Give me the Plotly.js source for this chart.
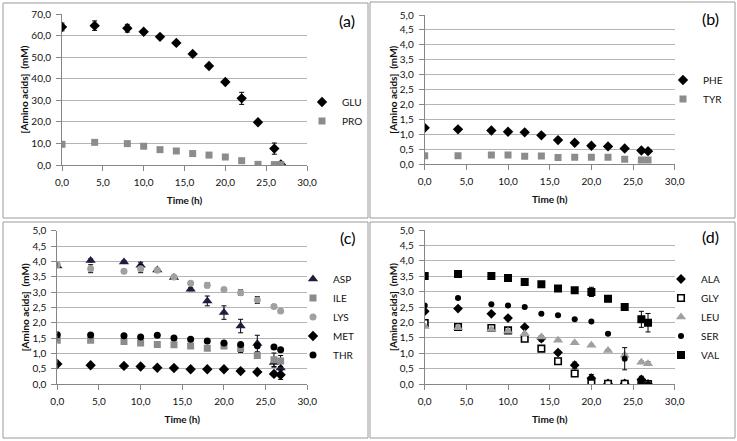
<!DOCTYPE html>
<html>
<head>
<meta charset="utf-8">
<script src="https://cdn.plot.ly/plotly-3.0.1.min.js"></script>
<style>html,body{margin:0;padding:0;background:#fff;}#chart{width:737px;height:441px;}</style>
</head>
<body>
<div id="chart"></div>
<script>
// ---------- data ----------
const time = [0, 4, 8, 10, 12, 14, 16, 18, 20, 22, 24, 26, 26.8];

// panel (a)
const GLU    = [64.0, 64.6, 63.4, 61.8, 59.4, 56.6, 51.5, 45.9, 38.5, 30.9, 19.8, 7.6, 0.2];
const GLUerr = [1.8, 2.2, 1.8, 0.8, 0.6, 0.6, 0.6, 0.6, 0.6, 2.8, 0.6, 2.6, 0.3];
const PRO    = [9.6, 10.5, 9.9, 8.7, 7.1, 6.5, 5.3, 4.6, 3.7, 2.0, 0.3, 0.2, 0.2];
const PROerr = [0.4, 0.4, 0.4, 0.4, 0.4, 0.4, 0.4, 0.4, 0.4, 0.4, 0.2, 0.2, 0.2];

// panel (b)
const PHE    = [1.22, 1.17, 1.13, 1.09, 1.07, 0.97, 0.81, 0.72, 0.62, 0.60, 0.53, 0.46, 0.44];
const PHEerr = [0.03, 0.03, 0.03, 0.03, 0.03, 0.03, 0.03, 0.03, 0.03, 0.03, 0.03, 0.03, 0.03];
const TYR    = [0.29, 0.29, 0.31, 0.31, 0.27, 0.28, 0.23, 0.24, 0.24, 0.24, 0.17, 0.14, 0.14];
const TYRerr = [0.02, 0.02, 0.02, 0.02, 0.02, 0.02, 0.02, 0.02, 0.02, 0.02, 0.02, 0.02, 0.02];

// panel (c)
const ASP    = [3.85, 4.03, 3.98, 3.87, 3.72, 3.47, 3.09, 2.71, 2.33, 1.89, 1.32, 0.70, 0.52];
const ASPerr = [0.05, 0.05, 0.05, 0.10, 0.05, 0.05, 0.05, 0.16, 0.22, 0.22, 0.27, 0.15, 0.25];
const ILE    = [1.43, 1.43, 1.39, 1.34, 1.29, 1.28, 1.24, 1.17, 1.24, 1.16, 0.93, 0.79, 0.75];
const ILEerr = [0.03, 0.03, 0.03, 0.03, 0.03, 0.03, 0.03, 0.03, 0.05, 0.13, 0.04, 0.22, 0.18];
const LYS    = [3.89, 3.76, 3.68, 3.76, 3.71, 3.49, 3.29, 3.22, 3.08, 2.98, 2.74, 2.53, 2.38];
const LYSerr = [0.05, 0.13, 0.04, 0.13, 0.05, 0.04, 0.04, 0.08, 0.04, 0.09, 0.11, 0.05, 0.05];
const MET    = [0.65, 0.61, 0.59, 0.57, 0.53, 0.52, 0.48, 0.48, 0.48, 0.42, 0.39, 0.33, 0.30];
const METerr = [0.02, 0.02, 0.02, 0.02, 0.02, 0.02, 0.02, 0.02, 0.02, 0.02, 0.02, 0.04, 0.15];
const THR    = [1.61, 1.60, 1.57, 1.53, 1.59, 1.50, 1.46, 1.40, 1.34, 1.29, 1.25, 1.21, 1.12];
const THRerr = [0.02, 0.02, 0.02, 0.02, 0.02, 0.02, 0.02, 0.02, 0.02, 0.02, 0.04, 0.02, 0.02];

// panel (d)
const ALA    = [2.36, 2.45, 2.28, 2.14, 1.85, 1.47, 1.02, 0.61, 0.19, 0.02, 0.02, 0.15, 0.00];
const ALAerr = [0.03, 0.03, 0.04, 0.06, 0.04, 0.08, 0.06, 0.10, 0.12, 0.02, 0.02, 0.10, 0.02];
const GLY    = [1.98, 1.85, 1.82, 1.74, 1.47, 1.15, 0.74, 0.34, 0.03, 0.01, 0.01, 0.01, 0.00];
const GLYerr = [0.02, 0.02, 0.02, 0.02, 0.02, 0.02, 0.02, 0.02, 0.02, 0.01, 0.01, 0.01, 0.01];
const LEU    = [1.87, 1.83, 1.77, 1.71, 1.63, 1.53, 1.42, 1.34, 1.26, 1.09, 0.93, 0.71, 0.66];
const LEUerr = [0.03, 0.03, 0.03, 0.03, 0.03, 0.03, 0.03, 0.03, 0.03, 0.03, 0.05, 0.03, 0.06];
const SER    = [2.55, 2.79, 2.59, 2.55, 2.50, 2.28, 2.23, 2.10, 2.03, 1.63, 0.82, 0.05, 0.00];
const SERerr = [0.03, 0.03, 0.03, 0.03, 0.03, 0.03, 0.03, 0.03, 0.03, 0.03, 0.36, 0.03, 0.02];
const VAL    = [3.51, 3.57, 3.51, 3.44, 3.31, 3.24, 3.10, 3.04, 2.99, 2.77, 2.50, 2.10, 1.99];
const VALerr = [0.03, 0.03, 0.03, 0.03, 0.03, 0.03, 0.03, 0.03, 0.15, 0.10, 0.03, 0.26, 0.30];

const panelLabels = ['(a)', '(b)', '(c)', '(d)'];
const xTitle = 'Time (h)';
const yTitle = '[Amino acids]  (mM)';

// ---------- styling ----------
const FONT = 'Lato, "Open Sans", "DejaVu Sans", sans-serif';
const BLACK = '#000000', GRAY = '#8c8c8c', LGRAY = '#a0a0a0', NAVY = '#1e1e3c';
const TXT = '#111111';

function tr(name, y, err, xa, ya, leg, symbol, color, size, lineColor) {
  return {
    type: 'scatter', mode: 'markers', name: name, x: time, y: y,
    xaxis: xa, yaxis: ya, legend: leg,
    marker: {symbol: symbol, color: color, size: size,
             line: {color: lineColor || color, width: lineColor ? 1.6 : 0}},
    error_y: {type: 'data', array: err, visible: true, color: BLACK, thickness: 1, width: 2.5}
  };
}

const data = [
  tr('GLU', GLU, GLUerr, 'x', 'y', 'legend', 'diamond', BLACK, 8),
  tr('PRO', PRO, PROerr, 'x', 'y', 'legend', 'square', GRAY, 7),

  tr('PHE', PHE, PHEerr, 'x2', 'y2', 'legend2', 'diamond', BLACK, 8),
  tr('TYR', TYR, TYRerr, 'x2', 'y2', 'legend2', 'square', GRAY, 7),

  tr('ASP', ASP, ASPerr, 'x3', 'y3', 'legend3', 'triangle-up', NAVY, 9),
  tr('ILE', ILE, ILEerr, 'x3', 'y3', 'legend3', 'square', GRAY, 7),
  tr('LYS', LYS, LYSerr, 'x3', 'y3', 'legend3', 'circle', LGRAY, 7),
  tr('MET', MET, METerr, 'x3', 'y3', 'legend3', 'diamond', BLACK, 8),
  tr('THR', THR, THRerr, 'x3', 'y3', 'legend3', 'circle', BLACK, 7),

  tr('ALA', ALA, ALAerr, 'x4', 'y4', 'legend4', 'diamond', BLACK, 7.5),
  tr('GLY', GLY, GLYerr, 'x4', 'y4', 'legend4', 'square', '#ffffff', 6.5, BLACK),
  tr('LEU', LEU, LEUerr, 'x4', 'y4', 'legend4', 'triangle-up', LGRAY, 9),
  tr('SER', SER, SERerr, 'x4', 'y4', 'legend4', 'circle', BLACK, 6),
  tr('VAL', VAL, VALerr, 'x4', 'y4', 'legend4', 'square', BLACK, 8)
];

const W = 737, H = 441;
const px = v => v / W, py = v => 1 - v / H;

function xax(domain, anchor) {
  return {
    domain: domain, anchor: anchor, range: [0, 30], dtick: 5, tick0: 0,
    tickformat: '.1f', showgrid: false, zeroline: false,
    showline: true, linecolor: '#868686', linewidth: 1,
    ticks: 'outside', ticklen: 5, tickcolor: '#868686', ticklabelstandoff: 3,
    tickfont: {family: FONT, size: 10, color: TXT},
    title: {text: '<b>' + xTitle + '</b>', standoff: 9, font: {family: FONT, size: 10, color: TXT}},
    fixedrange: true
  };
}
function yax(domain, anchor, max, dtick) {
  return {
    domain: domain, anchor: anchor, range: [0, max], dtick: dtick, tick0: 0,
    tickformat: '.1f', showgrid: true, gridcolor: '#b4b4b4', gridwidth: 1, zeroline: false,
    showline: true, linecolor: '#868686', linewidth: 1,
    ticks: 'outside', ticklen: 5, tickcolor: '#868686', ticklabelstandoff: 3,
    tickfont: {family: FONT, size: 10, color: TXT},
    title: {text: '<b>' + yTitle + '</b>', standoff: 0, font: {family: FONT, size: 10, color: TXT}},
    fixedrange: true
  };
}
function leg(xText, yMid) {
  return {x: px(xText - 40), xanchor: 'left', y: py(yMid), yanchor: 'middle',
          bgcolor: 'rgba(0,0,0,0)', borderwidth: 0, tracegroupgap: 0,
          font: {family: FONT, size: 10, color: TXT}};
}
function box(x0, y0, x1, y1) {
  return {type: 'rect', xref: 'paper', yref: 'paper', x0: px(x0), x1: px(x1), y0: py(y1), y1: py(y0),
          line: {color: '#9a9a9a', width: 1}, fillcolor: 'rgba(0,0,0,0)', layer: 'below'};
}
function lab(text, x, y) {
  return {text: text, xref: 'paper', yref: 'paper', x: px(x), y: py(y), xanchor: 'center', yanchor: 'middle',
          showarrow: false, font: {family: FONT, size: 16, color: BLACK}};
}

const layout = {
  width: W, height: H, margin: {l: 0, r: 0, t: 0, b: 0},
  paper_bgcolor: '#ffffff', plot_bgcolor: '#ffffff',
  separators: ',.', showlegend: true,
  font: {family: FONT, size: 10, color: TXT},
  xaxis:  xax([px(62), px(307)], 'y'),
  yaxis:  yax([py(165), py(14)], 'x', 70, 10),
  xaxis2: xax([px(424.7), px(674.7)], 'y2'),
  yaxis2: yax([py(164.3), py(15)], 'x2', 5, 0.5),
  xaxis3: xax([px(57.3), px(307.3)], 'y3'),
  yaxis3: yax([py(384), py(230.7)], 'x3', 5, 0.5),
  xaxis4: xax([px(424.7), px(674.7)], 'y4'),
  yaxis4: yax([py(384), py(230)], 'x4', 5, 0.5),
  legend:  leg(342, 111.5),
  legend2: leg(703, 89.5),
  legend3: leg(333, 317),
  legend4: leg(701, 317),
  shapes: [box(3, 3, 368, 218), box(370, 2, 735, 218), box(3, 222, 368, 438), box(370, 222, 735, 438)],
  annotations: [lab(panelLabels[0], 347, 20), lab(panelLabels[1], 710, 18),
                lab(panelLabels[2], 347, 237), lab(panelLabels[3], 710, 236)]
};

Plotly.newPlot('chart', data, layout, {displayModeBar: false, staticPlot: true});
</script>
</body>
</html>
